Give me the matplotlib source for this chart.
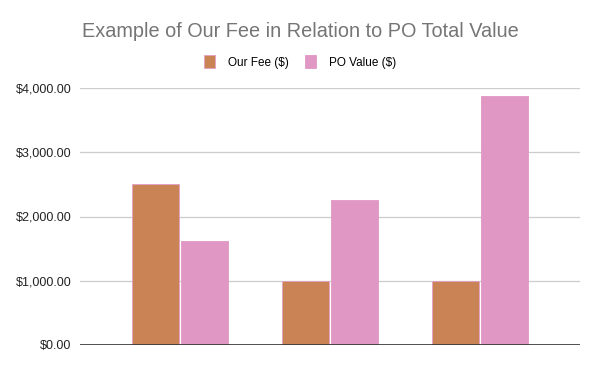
import matplotlib.pyplot as plt
import numpy as np
from matplotlib.ticker import FuncFormatter

categories = ["1", "2", "3"]
our_fee = [2500, 1000, 1000]
po_value = [1620, 2255, 3880]
y_ticks = [0, 1000, 2000, 3000, 4000]

plt.rcParams['font.family'] = ['Liberation Sans', 'DejaVu Sans']

fig = plt.figure(figsize=(6, 3.71), dpi=100)
ax = fig.add_axes([80 / 600, 26 / 371, 500 / 600, 257 / 371])

x = np.arange(len(categories))
w = 0.313
gap = 0.007
ax.bar(x - w / 2 - gap, our_fee, w, color='#C98354', edgecolor='#E3A0C6',
       linewidth=0.6, label='Our Fee ($)', zorder=3)
ax.bar(x + w / 2 + gap, po_value, w, color='#E097C3', edgecolor='#E097C3',
       linewidth=0.6, label='PO Value ($)', zorder=3)

ax.set_xlim(-0.67, 2.67)
ax.set_ylim(0, 4000)
ax.set_yticks(y_ticks)
ax.yaxis.set_major_formatter(FuncFormatter(lambda v, p: '${:,.2f}'.format(v)))
ax.set_xticks([])
ax.grid(axis='y', color='#CCCCCC', linewidth=0.9, zorder=0)
ax.axhline(0, color='#333333', linewidth=1.2, zorder=4)
for s in ax.spines.values():
    s.set_visible(False)
ax.tick_params(axis='y', length=0, labelsize=9, labelcolor='#222222', pad=6)

fig.text(0.5, 0.916, 'Example of Our Fee in Relation to PO Total Value',
         ha='center', va='center', fontsize=14.3, color='#757575')
fig.legend(loc='center', bbox_to_anchor=(0.5, 0.833), ncol=2, frameon=False,
           fontsize=8.5, handlelength=0.9, handleheight=1.3, columnspacing=1.4,
           handletextpad=1.1)

fig.savefig('out.png', dpi=100)
